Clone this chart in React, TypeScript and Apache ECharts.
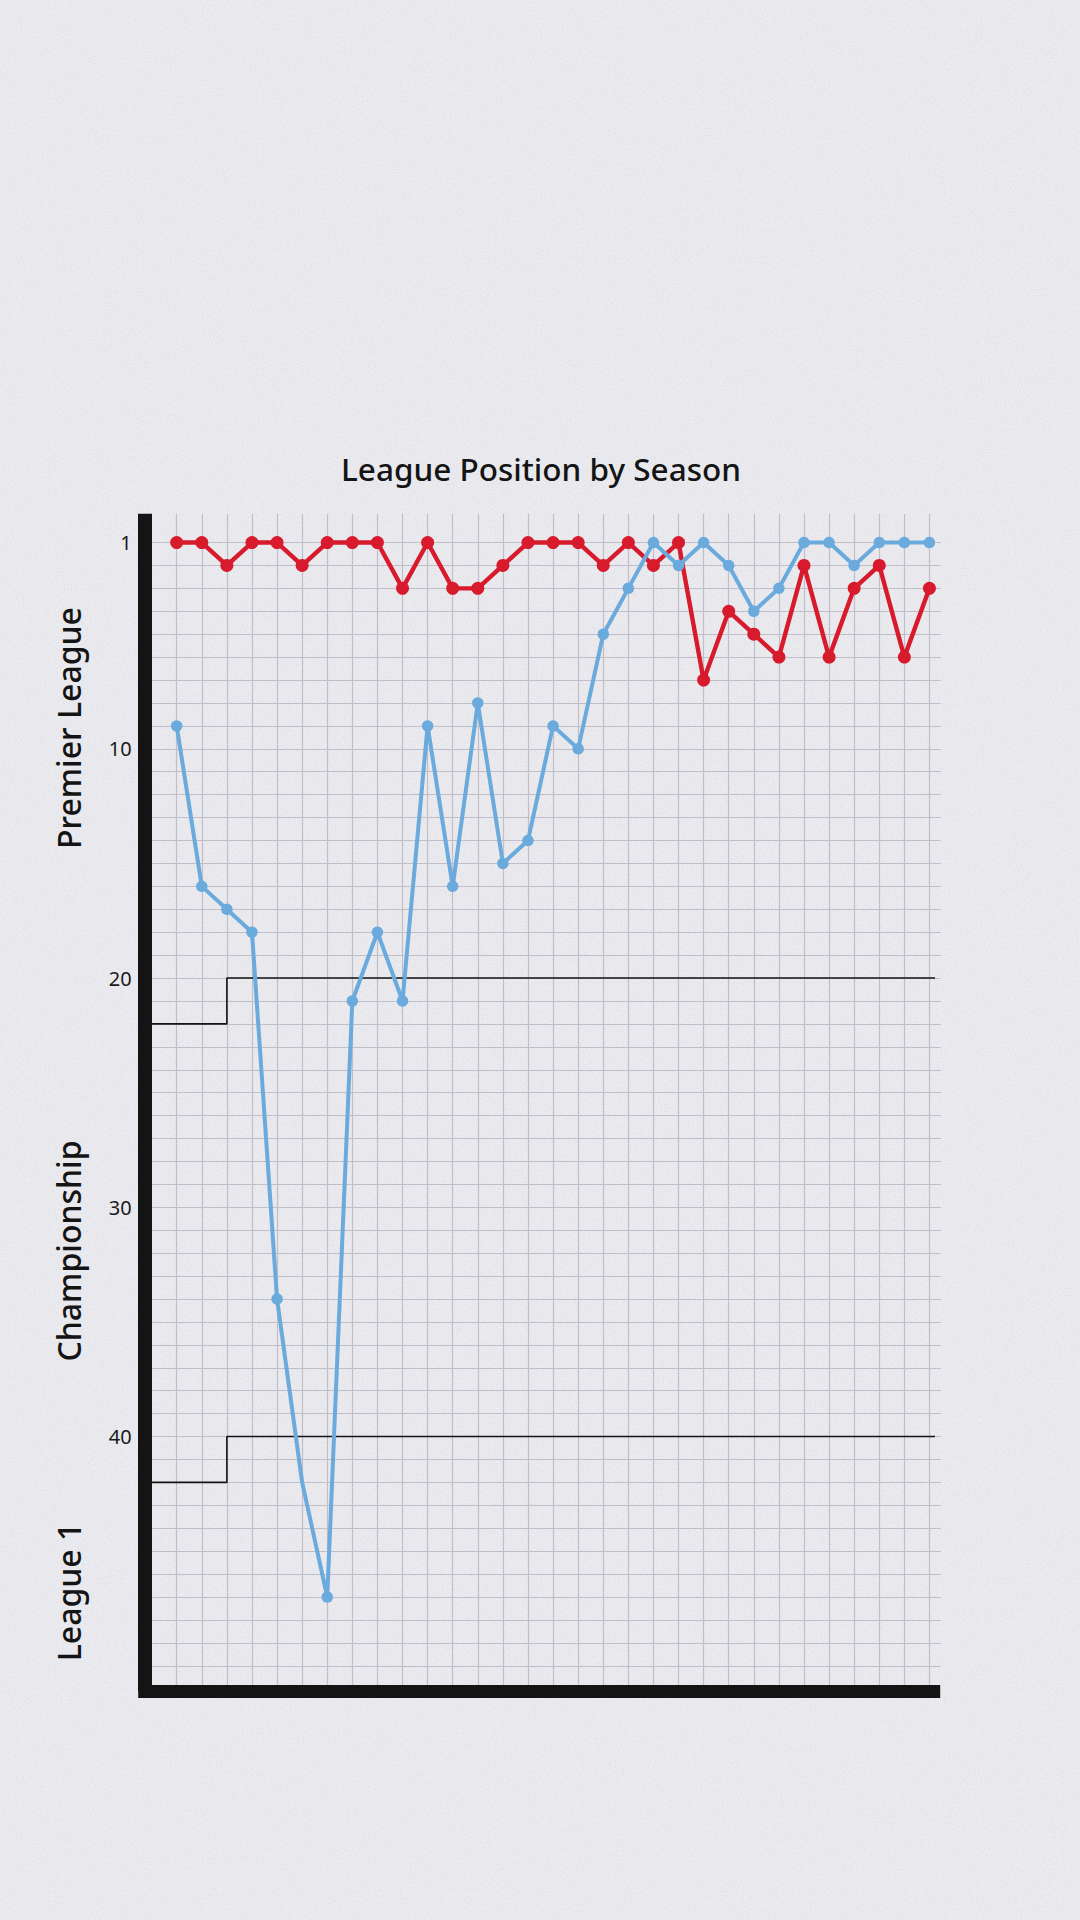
import React, { useEffect, useRef } from "react";
import * as echarts from "echarts";

// Seasons (one per vertical grid line)
const seasons = [
  "1992-93", "1993-94", "1994-95", "1995-96", "1996-97", "1997-98", "1998-99",
  "1999-00", "2000-01", "2001-02", "2002-03", "2003-04", "2004-05", "2005-06",
  "2006-07", "2007-08", "2008-09", "2009-10", "2010-11", "2011-12", "2012-13",
  "2013-14", "2014-15", "2015-16", "2016-17", "2017-18", "2018-19", "2019-20",
  "2020-21", "2021-22", "2022-23",
];

// Overall league position per season
const manUnitedPositions = [
  1, 1, 2, 1, 1, 2, 1, 1, 1, 3, 1, 3, 3, 2, 1, 1, 1, 2, 1, 2, 1, 7, 4, 5, 6, 2, 6, 3, 2, 6, 3,
];
const manCityPositions = [
  9, 16, 17, 18, 34, 42, 47, 21, 18, 21, 9, 16, 8, 15, 14, 9, 10, 5, 3, 1, 2, 1, 2, 4, 3, 1, 1, 2, 1, 1, 1,
];
// seasons where the City point is drawn without a marker in the original
const cityPointsWithoutMarker = [5];

// Y axis tick labels
const yTickLabels = [1, 10, 20, 30, 40];

// Division boundaries: size before / after the top flight shrank
const boundaryChangeSeasonIndex = 2;
const premierLeagueBoundary = [22, 20];
const championshipBoundary = [42, 40];

// Division names on the left
const divisionNames = ["Premier League", "Championship", "League 1"];
const divisionLabelY = [728, 1251, 1592];

const TITLE = "League Position by Season";

// axis extents
const X_MIN = -1.275;
const X_MAX = 30.17;
const X_GRID_END = 30.45;
const Y_MIN = -0.25;
const Y_MAX = 51.1;
const LAST_GRID_ROW = 50;

const RED = "#d81a2d";
const BLUE = "#6aaadd";
const GRID_COLOR = "#c0bec9";
const INK = "#141414";

const paperSvg =
  "<svg xmlns='http://www.w3.org/2000/svg' width='1080' height='1920'>" +
  "<filter id='n' x='0' y='0' width='100%' height='100%'>" +
  "<feTurbulence type='fractalNoise' baseFrequency='0.85' numOctaves='3' stitchTiles='stitch'/>" +
  "<feColorMatrix type='matrix' values='0 0 0 0 0.55  0 0 0 0 0.57  0 0 0 0 0.72  0 0 0 1.4 -0.55'/>" +
  "</filter>" +
  "<rect width='1080' height='1920' fill='#ececef'/>" +
  "<rect width='1080' height='1920' filter='url(#n)' opacity='0.5'/>" +
  "</svg>";
const paperUrl = "data:image/svg+xml;charset=utf-8," + encodeURIComponent(paperSvg);

export default function App() {
  const ref = useRef<HTMLDivElement>(null);

  useEffect(() => {
    if (!ref.current) return;
    const chart = echarts.init(ref.current, null, { renderer: "svg" });

    const gridLines: any[] = [];
    seasons.forEach((_, i) => {
      gridLines.push({ coords: [[i, Y_MIN], [i, Y_MAX]] });
    });
    for (let r = 1; r <= LAST_GRID_ROW; r++) {
      gridLines.push({ coords: [[X_MIN, r], [X_GRID_END, r]] });
    }

    const boundarySeries = (vals: number[]) => ({
      type: "line",
      silent: true,
      clip: false,
      symbol: "none",
      z: 3,
      lineStyle: { color: INK, width: 1.6 },
      data: [
        [X_MIN, vals[0]],
        [boundaryChangeSeasonIndex, vals[0]],
        [boundaryChangeSeasonIndex, vals[1]],
        [X_GRID_END, vals[1]],
      ],
    });

    const option: any = {
      animation: false,
      backgroundColor: "#ececef",
      grid: { left: 144.7, right: 1080 - 933.7, top: 513.85, bottom: 1920 - 1691 },
      xAxis: {
        type: "value",
        min: X_MIN,
        max: X_MAX,
        z: 10,
        axisLine: { show: true, onZero: false, lineStyle: { color: INK, width: 13, cap: "square" } },
        axisTick: { show: false },
        axisLabel: { show: false },
        splitLine: { show: false },
      },
      yAxis: {
        type: "value",
        inverse: true,
        min: Y_MIN,
        max: Y_MAX,
        z: 10,
        axisLine: { show: true, onZero: false, lineStyle: { color: INK, width: 14, cap: "butt" } },
        axisTick: { show: false },
        splitLine: { show: false },
        axisLabel: {
          customValues: yTickLabels,
          fontSize: 20,
          fontFamily: "'Noto Sans', sans-serif",
          color: "#1a1a1a",
          margin: 13,
        },
      },
      graphic: [
        {
          type: "image",
          x: 0,
          y: 0,
          z: -100,
          silent: true,
          style: { image: paperUrl, width: 1080, height: 1920 },
        },
        {
          type: "text",
          x: 541,
          y: 468,
          style: {
            text: TITLE,
            fontSize: 31.5,
            fontWeight: 500,
            fontFamily: "'Noto Sans', sans-serif",
            fill: INK,
            align: "center",
            verticalAlign: "middle",
          },
        },
        ...divisionNames.map((name, i) => ({
          type: "text",
          x: 68,
          y: divisionLabelY[i],
          rotation: Math.PI / 2,
          style: {
            text: name,
            fontSize: 32,
            fontWeight: 500,
            fontFamily: "'Noto Sans', sans-serif",
            fill: INK,
            align: "center",
            verticalAlign: "middle",
          },
        })),
      ],
      series: [
        {
          type: "lines",
          coordinateSystem: "cartesian2d",
          silent: true,
          clip: false,
          z: 1,
          lineStyle: { color: GRID_COLOR, width: 1.2, opacity: 1 },
          data: gridLines,
        },
        boundarySeries(premierLeagueBoundary),
        boundarySeries(championshipBoundary),
        {
          name: "Manchester United",
          type: "line",
          z: 4,
          symbol: "circle",
          symbolSize: 13,
          color: RED,
          lineStyle: { color: RED, width: 4.4 },
          itemStyle: { color: RED },
          data: manUnitedPositions.map((v, i) => [i, v]),
        },
        {
          name: "Manchester City",
          type: "line",
          z: 5,
          symbol: "circle",
          symbolSize: 11.5,
          color: BLUE,
          lineStyle: { color: BLUE, width: 4 },
          itemStyle: { color: BLUE },
          data: manCityPositions.map((v, i) =>
            cityPointsWithoutMarker.includes(i)
              ? { value: [i, v], symbolSize: 0 }
              : [i, v]
          ),
        },
      ],
    };

    chart.setOption(option);
    return () => chart.dispose();
  }, []);

  return (
    <div
      ref={ref}
      style={{ position: "absolute", left: 0, top: 0, width: 1080, height: 1920 }}
    />
  );
}
